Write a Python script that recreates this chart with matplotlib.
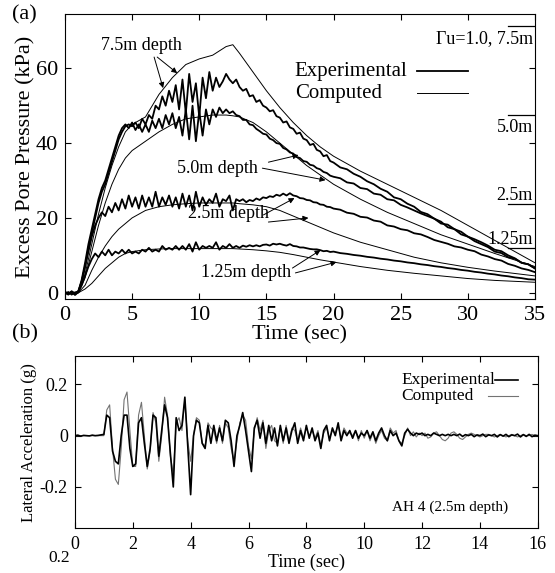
import numpy as np
import matplotlib
matplotlib.use("Agg")
import matplotlib.pyplot as plt

plt.rcParams["font.family"] = ["Liberation Serif", "DejaVu Serif"]

# ---------------- (a) excess pore pressure (kPa) ----------------
T_EXP = np.concatenate([np.arange(0, 20.01, 0.25), np.arange(20.5, 35.01, 0.5)])

EXP_75 = [
    0.0, -0.5, 0.3, -0.4,
    0.2, 3, 7, 12,
    16, 20, 24, 27,
    29, 32, 35, 38,
    41, 43, 44.5, 45,
    44.5, 45.5, 44, 46.5,
    45, 47.5, 46.5, 50,
    49, 52.5, 50, 54,
    51, 55.5, 49, 57,
    48, 58.5, 51, 56,
    47, 57.5, 52, 59,
    54, 57.5, 55, 56.5,
    58.5, 57, 56, 57,
    55, 54, 54.5, 52.5,
    52.8, 51, 51.5, 50,
    49.5, 48.5, 48.8, 47.2,
    46.8, 45.5, 45.8, 44.2,
    43.8, 42.5, 42.8, 41.2,
    40.8, 39.5, 39.8, 38.2,
    37.8, 36.5, 36.8, 35.2,
    34.8,
    33.5, 33, 31.8, 31, 29.8, 29, 27.8, 27, 25.5, 25,
    23.8, 23, 21.6, 21, 19.8, 19, 17.5, 17, 15.6, 15,
    13.8, 13, 12.2, 11, 10.6, 9.5, 9.1, 8, 7.6, 6.5,
]

EXP_50 = [
    -0.3, 0.2, -0.5, 0.1,
    0.3, 3.5, 8, 13,
    17, 21, 25, 28,
    30, 33, 36, 39,
    42, 44, 45, 44,
    45.5, 43.5, 45, 43,
    45, 43, 46, 44,
    46.5, 44, 47.5, 45,
    48, 44, 47, 42,
    49, 41, 50, 40.5,
    48.5, 42, 49, 45,
    49, 47, 49.5, 48,
    49, 48, 48.5, 47.5,
    47.2, 46.2, 46.2, 45,
    44.8, 43.8, 43.2, 42.5,
    42.3, 41.2, 40.8, 40,
    39.8, 38.7, 38.3, 37.5,
    37.2, 36.3, 36, 35.2,
    35, 34.2, 34, 33.3,
    33, 32.3, 32, 31.3,
    31,
    30.6, 29.5, 29.2, 28, 27.7, 26.5, 26.2, 25, 24.7, 23.5,
    22.8, 22, 21.2, 20.5, 19.8, 18.5, 18.2, 17, 16.3, 15,
    14.3, 13.5, 12.6, 11.5, 11.1, 10, 9.2, 8, 7.6, 6.5,
]

EXP_25 = [
    0.2, -0.3, 0.4, -0.2,
    0.5, 3, 7, 11,
    15, 18, 20, 21.5,
    20.5, 23, 21.5, 24,
    22, 25, 22.5, 26,
    23, 25.5, 22.5, 26,
    23, 25.5, 23, 27,
    23, 25.5, 23.5, 26,
    23, 25.5, 22.5, 26.5,
    23, 26, 22, 27,
    23, 25.5, 23.5, 25,
    24, 26.5, 23, 25,
    24.5, 26, 22, 25,
    24.5, 25, 24.2, 24.8,
    24.5, 25.2, 24.8, 25.5,
    25.3, 25.8, 25.6, 26.2,
    25.9, 26.5, 26, 26.6,
    26, 25.8, 25.3, 25.2,
    24.8, 24.7, 24.2, 24.1,
    23.6, 23.5, 23, 22.9,
    22.5,
    22.2, 21.4, 21.1, 20.3, 20.1, 19.3, 19, 18, 17.7, 17,
    16.7, 15.9, 15.6, 14.9, 14.1, 13.6, 13.1, 12.4, 12.1, 11.5,
    11.1, 10.2, 9.7, 9, 8.6, 7.7, 7.2, 6.5, 6.1, 5.5,
]

EXP_125 = [
    0.3, -0.4, 0.2, -0.6,
    0.2, 2, 4.5, 7,
    9, 10.5, 9.5, 11,
    10, 11.5, 10, 11,
    10.5, 11.5, 10.5, 11.5,
    10.5, 11, 10.5, 11.5,
    11, 12, 11, 11.5,
    11, 12.5, 11.5, 12,
    11.5, 12.5, 11.5, 12.5,
    11.5, 13, 11, 13.5,
    11.5, 12.5, 12, 12.5,
    12, 13.5, 11.5, 12.5,
    12, 13, 12, 12.5,
    12, 12.6, 12.3, 12.7,
    12.4, 12.7, 12.4, 12.8,
    12.9, 12.6, 13.1, 12.9,
    13.1, 12.8, 12.6, 13,
    12.5, 12.4, 12.1, 12.1,
    11.9, 11.7, 11.6, 11.6,
    11.4, 11.1, 11.2, 10.9,
    11,
    10.6, 10.4, 10.1, 9.9, 9.6, 9.4, 9.1, 8.9, 8.6, 8.4,
    8.1, 7.9, 7.6, 7.4, 7.1, 6.9, 6.6, 6.4, 6.1, 5.9,
    5.6, 5.4, 5.1, 4.9, 4.6, 4.4, 4.1, 3.9, 3.6, 3.5,
]

T_COMP = [0, 1, 1.5, 2, 2.5, 3, 3.5, 4, 4.5, 5, 6, 7, 8, 9, 10, 11, 12, 12.5,
          13, 14, 15, 16, 17, 18, 19, 20, 22, 24, 26, 28, 30, 32, 35]
COMP_75 = [0, 0, 5, 13, 21, 28, 34, 39, 43, 45, 47, 53, 57.5, 61, 62.5, 63.5, 65.8, 66.3,
           64, 59, 54, 49.5, 45.5, 42, 39, 36.5, 32.5, 29, 25.5, 22, 18, 14, 8]
COMP_50 = [0, 0, 4, 11, 18, 24, 29, 33, 36, 38, 40.5, 43, 45, 46.5, 47, 47.5, 47.5, 47.3,
           47, 45.5, 43, 40, 37, 34, 31.5, 29, 25, 21.5, 18.5, 15.5, 13, 10.5, 7]
COMP_25 = [0, 0, 2, 6, 9.5, 12.5, 15, 17, 18.5, 20, 22, 23, 23.5, 23.8, 24, 24, 24, 24,
           23.8, 23.5, 23, 22, 20.5, 19, 17.5, 16, 13.5, 11.5, 9.5, 8, 6.8, 5.8, 4.5]
COMP_125 = [0, 0, 1, 2.5, 4.5, 6.5, 8, 9.5, 10.5, 11, 11.5, 11.7, 11.8, 11.8, 11.8, 11.8, 11.8, 11.8,
            11.7, 11.5, 11.2, 10.8, 10.2, 9.5, 8.8, 8.2, 7, 6, 5.2, 4.5, 3.8, 3.3, 2.8]

# initial effective stress levels (ru = 1.0) per depth
RU_LEVELS = [71.3, 47.5, 23.8, 11.9]
RU_LABELS = ["Γu=1.0, 7.5m", "5.0m", "2.5m", "1.25m"]

# ---------------- (b) lateral acceleration, AH4 ----------------
T_ACC = np.arange(0, 16.01, 0.1)
ACC_EXP = [
    0.0, 0.002, -0.002, 0.001, 0.0, -0.001, 0.002, 0.0, 0.001, 0.003,
    0.005, 0.08, 0.07, -0.06, -0.10, -0.11, 0.0, 0.08, 0.08, -0.05,
    -0.12, -0.11, 0.05, 0.07, -0.03, -0.12, -0.05, 0.08, 0.07, -0.08,
    0.02, 0.12, 0.07, -0.07, -0.20, 0.07, 0.02, 0.04, 0.15, -0.04,
    -0.23, 0.0, 0.06, 0.05, -0.03, -0.05, 0.04, -0.03, 0.04, -0.02,
    0.03, -0.02, 0.06, 0.05, -0.02, -0.12, 0.0, 0.04, 0.09, 0.02,
    -0.06, -0.14, 0.03, 0.06, -0.01, 0.05, -0.03, 0.04, -0.02, 0.03,
    -0.04, 0.04, -0.02, 0.03, -0.03, 0.02, 0.05, -0.03, 0.02, -0.02,
    0.04, -0.01, 0.03, -0.02, 0.01, -0.05, 0.02, 0.04, -0.02, 0.03,
    0.0, 0.05, -0.02, 0.02, 0.0, 0.02, -0.01, 0.02, -0.01, 0.01,
    0.0, 0.02, -0.01, 0.015, -0.02, 0.01, 0.03, 0.0, -0.02, 0.02,
    0.0, 0.01, -0.02, -0.04, 0.01, 0.025, 0.01, 0.0, 0.01, 0.005,
    0.01, 0.0, 0.005, 0.0, 0.01, 0.005, 0.0, 0.005, 0.0, 0.005,
    0.0, 0.005, 0.0, 0.006, -0.003, 0.004, 0.0, 0.005, -0.004, 0.003,
    0.0, 0.006, -0.004, 0.003, 0.0, 0.005, -0.005, 0.004, -0.002, 0.005,
    -0.004, 0.003, 0.0, 0.006, -0.005, 0.004, -0.003, 0.005, -0.004, 0.002,
    0.0,
]
ACC_COMP = [
    0, 0, 0, 0, 0, 0, 0, 0, 0, 0,
    0.0, 0.10, 0.12, -0.05, -0.17, -0.19, -0.05, 0.14, 0.17, 0.02,
    -0.12, -0.12, 0.08, 0.13, 0.0, -0.13, -0.06, 0.09, 0.05, -0.10,
    0.0, 0.15, 0.08, -0.08, -0.15, 0.05, 0.07, 0.02, 0.14, -0.02,
    -0.10, 0.0, 0.07, 0.06, -0.03, -0.04, 0.05, 0.03, 0.02, -0.03,
    0.04, -0.03, 0.05, 0.03, -0.05, -0.10, -0.02, 0.05, 0.08, 0.06,
    -0.04, -0.09, 0.02, 0.07, 0.02, 0.06, -0.05, 0.02, 0.04, -0.02,
    -0.03, 0.03, -0.03, 0.04, -0.02, 0.03, 0.02, -0.02, 0.03, -0.01,
    0.03, 0.0, 0.02, -0.01, 0.02, -0.04, 0.01, 0.03, -0.01, 0.02,
    0.01, 0.04, -0.01, 0.03, 0.01, 0.01, 0.0, 0.02, -0.02, 0.02,
    -0.01, 0.02, -0.02, 0.01, -0.03, 0.0, 0.02, -0.01, -0.02, 0.03,
    0.01, 0.02, -0.02, -0.03, 0.0, 0.03, 0.0, 0.015, -0.005, 0.01,
    0.0, 0.01, -0.01, -0.005, 0.01, 0.015, 0.0, -0.015, -0.02, -0.01,
    0.01, 0.015, 0.005, -0.01, -0.015, -0.005, 0.005, 0.01, 0.005, 0.0,
    -0.005, 0.0, 0.005, 0.005, 0.0, -0.005, 0.0, 0.005, 0.0, -0.005,
    0.0, 0.005, 0.0, -0.005, 0.0, 0.005, 0.0, 0.0, 0.005, 0.0,
    0.0,
]

EXP_COLOR, COMP_COLOR_B = "black", "0.45"


def key(ax, labels, styles, text_x, key_x, rows, fontsize):
    # legend drawn text-first with left aligned labels, as in the scan
    for lab, (color, lw), y, (x0, x1) in zip(labels, styles, rows, key_x):
        ax.text(text_x, y, lab, transform=ax.transAxes, ha="left",
                va="center", fontsize=fontsize)
        ax.plot([x0, x1], [y, y], color=color, lw=lw,
                transform=ax.transAxes, clip_on=False)


def main():
    fig = plt.figure(figsize=(5.55, 5.73), dpi=100)

    # ---- panel (a)
    ax = fig.add_axes([0.117, 0.478, 0.847, 0.4975])
    for y in (EXP_75, EXP_50, EXP_25, EXP_125):
        ax.plot(T_EXP, y, color="black", lw=1.3)
    for y in (COMP_75, COMP_50, COMP_25, COMP_125):
        ax.plot(T_COMP, y, color="black", lw=0.7)

    ax.set_xlim(0, 35)
    ax.set_ylim(-1.7, 74.5)
    ax.set_xticks(range(0, 36, 5))
    ax.set_yticks([0, 20, 40, 60])
    ax.tick_params(direction="in", top=True, right=True, length=4,
                   labelsize=16, pad=5)
    ax.set_xlabel("Time (sec)", fontsize=16, labelpad=0)
    ax.set_ylabel("Excess Pore Pressure (kPa)", fontsize=16, labelpad=0)

    # ru = 1.0 marks on the right edge
    text_off = [-3.3, -3.3, 2.2, 2.3]
    for lev, lab, off in zip(RU_LEVELS, RU_LABELS, text_off):
        ax.axhline(lev, xmin=0.943, xmax=1.0, color="black", lw=0.9)
        ax.text(34.85, lev + off, lab, ha="right", va="center", fontsize=13)

    # depth labels with arrows
    arrow = dict(arrowstyle="-|>", color="black", lw=0.7,
                 mutation_scale=8, shrinkA=0, shrinkB=0)
    depth_text = [("7.5m depth", 5.67, 66.2), ("5.0m depth", 11.34, 33.3),
                  ("2.5m depth", 12.16, 21.3), ("1.25m depth", 13.5, 5.5)]
    for lab, x, y in depth_text:
        ax.text(x, y, lab, ha="center", va="center", fontsize=13)
    arrows = [((6.87, 63.0), (8.36, 58.7)), ((6.64, 63.0), (7.31, 54.7)),
              ((15.15, 34.9), (17.39, 36.8)), ((14.70, 33.3), (19.40, 30.1)),
              ((14.78, 20.8), (17.09, 25.3)), ((15.15, 18.9), (18.13, 20.0)),
              ((16.94, 6.6), (19.03, 11.4)), ((17.16, 5.3), (20.22, 8.2))]
    for tail, head in arrows:
        ax.annotate("", xy=head, xytext=tail, arrowprops=arrow)

    key(ax, ["Experimental", "Computed"], [("black", 1.3), ("black", 0.7)],
        0.489, [(0.749, 0.857), (0.749, 0.857)], [0.800, 0.722], 15)

    fig.text(0.022, 0.974, "(a)", fontsize=16, va="center")

    # ---- panel (b)
    bx = fig.add_axes([0.135, 0.0785, 0.834, 0.300])
    bx.plot(T_ACC, ACC_COMP, color=COMP_COLOR_B, lw=0.8)
    bx.plot(T_ACC, ACC_EXP, color=EXP_COLOR, lw=1.2)
    bx.set_xlim(0, 16)
    bx.set_ylim(-0.36, 0.31)
    bx.set_xticks(range(0, 17, 2))
    bx.set_yticks([-0.2, 0, 0.2])
    bx.set_yticklabels(["-0.2", "0", "0.2"])
    bx.tick_params(direction="in", top=True, right=True, length=4,
                   labelsize=13, pad=5)
    bx.tick_params(axis="x", pad=6)
    bx.set_xlabel("Time (sec)", fontsize=13, labelpad=0)
    bx.set_ylabel("Lateral Acceleration (g)", fontsize=12, labelpad=2)

    key(bx, ["Experimental", "Computed"], [(EXP_COLOR, 1.2), (COMP_COLOR_B, 0.8)],
        0.706, [(0.907, 0.957), (0.893, 0.957)], [0.860, 0.770], 12.5)
    bx.text(0.81, 0.122, "AH 4 (2.5m depth)", transform=bx.transAxes,
            ha="center", va="center", fontsize=11)

    fig.text(0.022, 0.417, "(b)", fontsize=16, va="center")
    fig.text(0.126, 0.026, "0.2", fontsize=12.5, ha="right", va="center")

    fig.savefig("out.png", dpi=100)


if __name__ == "__main__":
    main()
